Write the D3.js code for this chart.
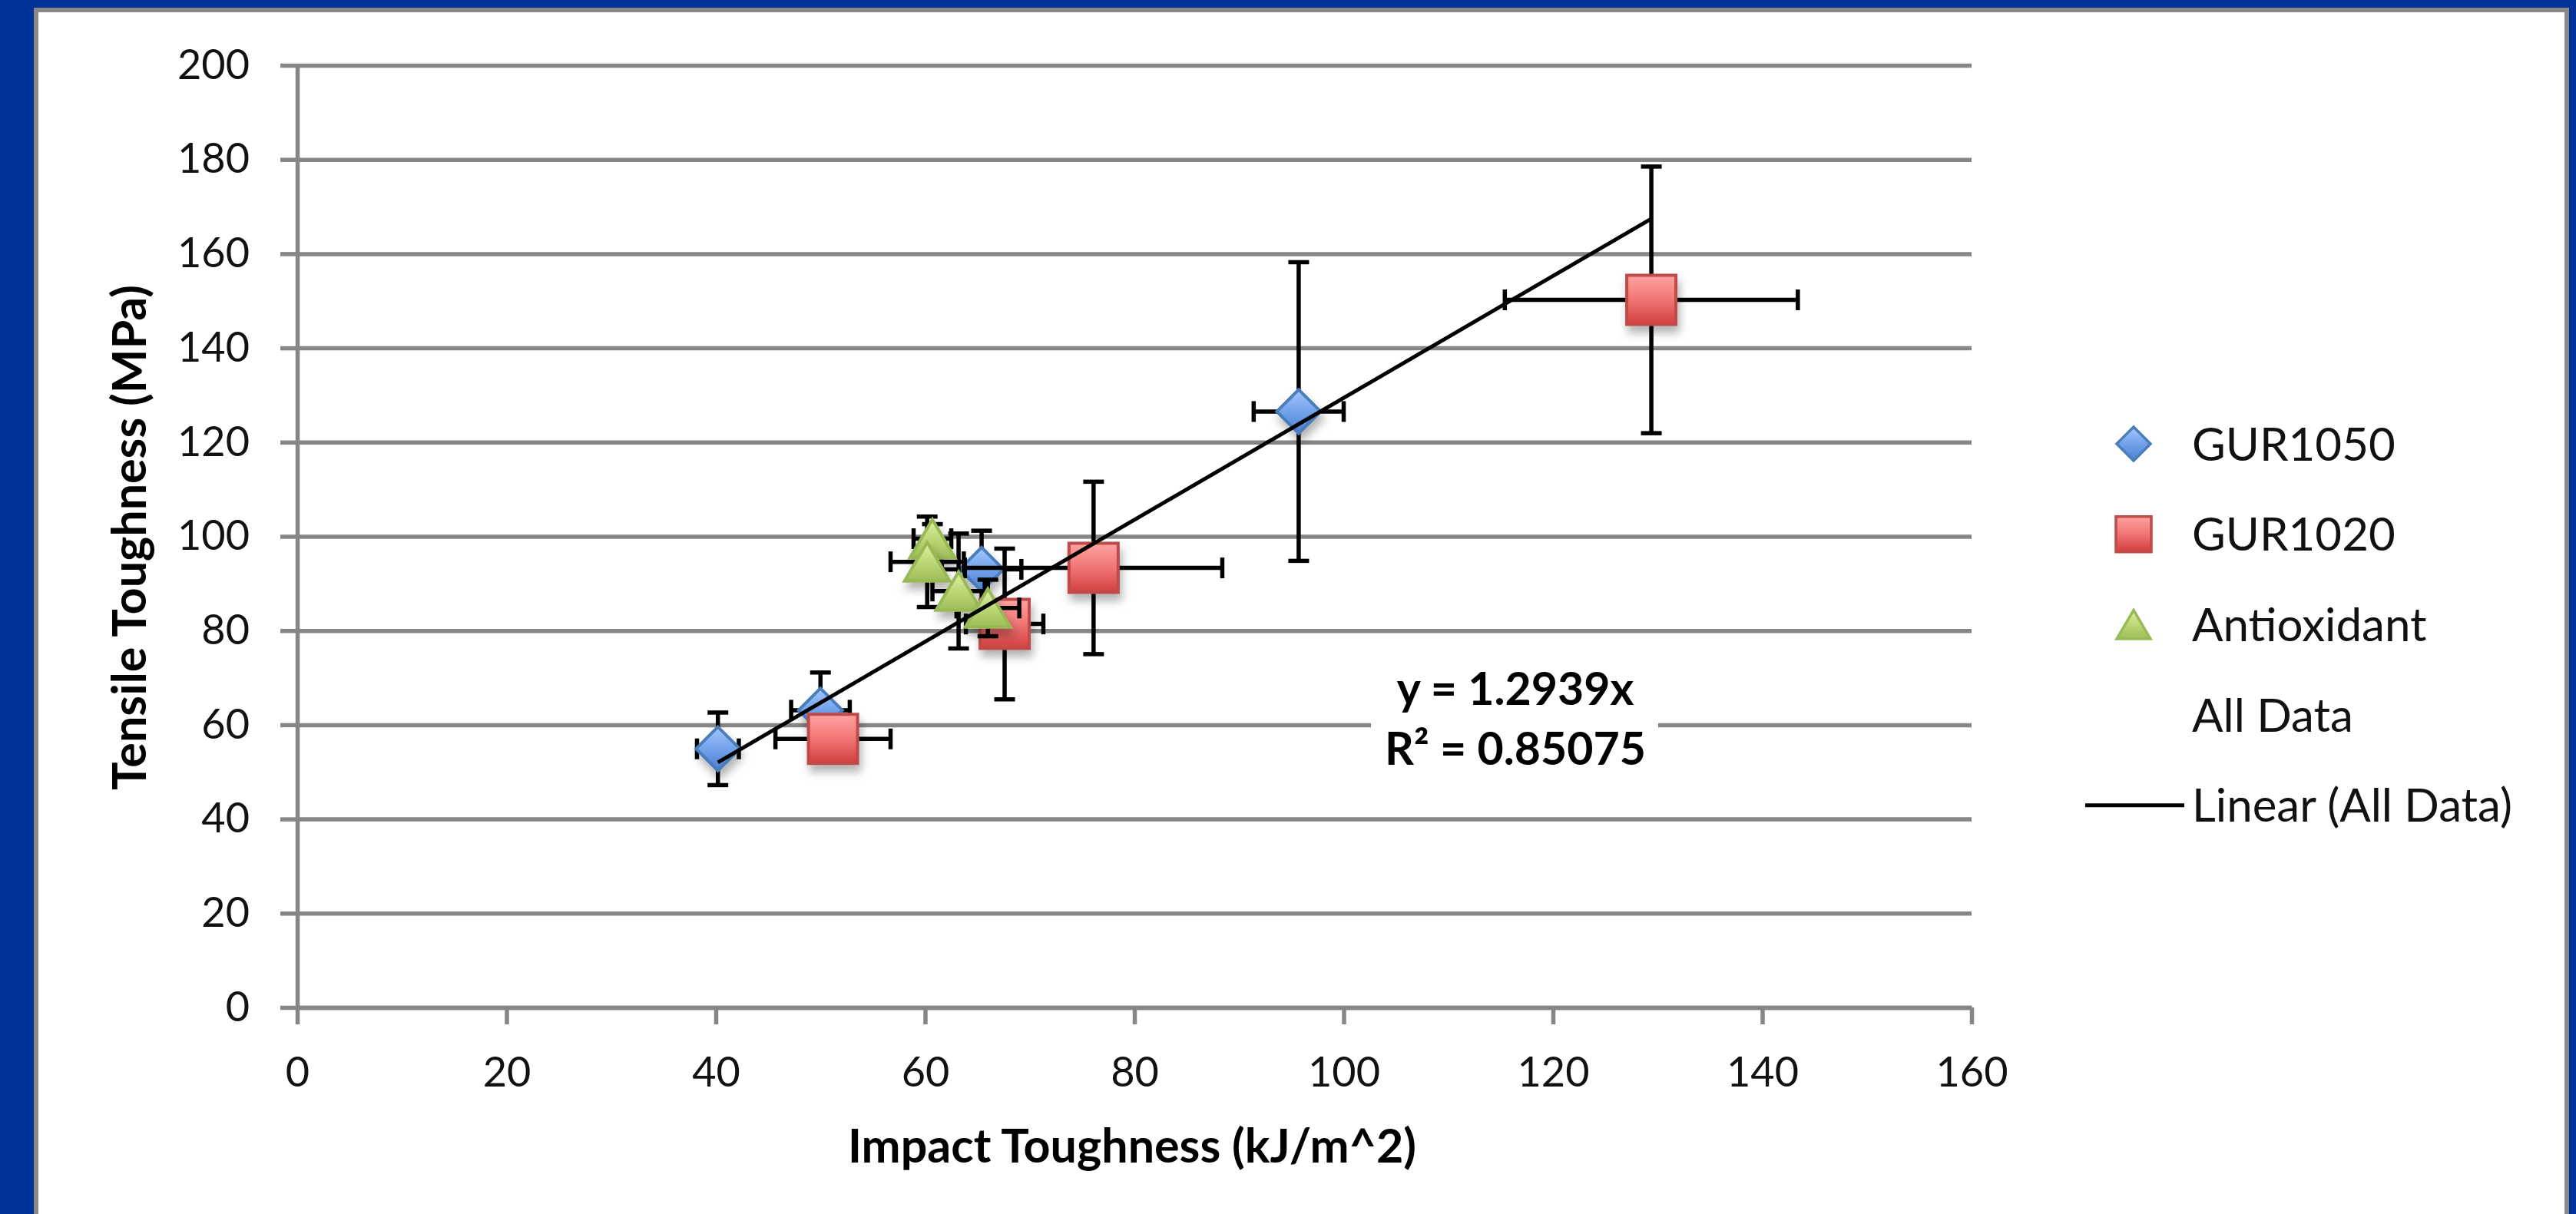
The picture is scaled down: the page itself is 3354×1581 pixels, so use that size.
<!DOCTYPE html>
<html>
<head>
<meta charset="utf-8">
<script src="https://cdn.jsdelivr.net/npm/d3@7"></script>
<style>
  body { margin: 0; background: #003399; }
  svg { display: block; }
</style>
</head>
<body>
<div id="chart"></div>
<script>
// ---------------- data -------------------------------------------------------
const xTicks = [0, 20, 40, 60, 80, 100, 120, 140, 160];
const yTicks = [0, 20, 40, 60, 80, 100, 120, 140, 160, 180, 200];

const gur1050X    = [40.2, 50.0, 65.4, 95.7];
const gur1050Y    = [54.9, 63.1, 93.0, 126.5];
const gur1050XErr = [2.0, 2.8, 3.8, 4.3];
const gur1050YErr = [7.7, 8.0, 8.2, 31.7];

const gur1020X    = [51.2, 67.6, 76.1, 129.4];
const gur1020Y    = [57.0, 81.4, 93.3, 150.2];
const gur1020XErr = [5.5, 3.7, 12.3, 14.0];
const gur1020YErr = [3.0, 16.0, 18.3, 28.3];

const antioxX    = [60.7, 60.2, 63.2, 66.0];
const antioxY    = [99.5, 94.6, 88.4, 84.8];
const antioxXErr = [1.8, 3.5, 2.5, 3.0];
const antioxYErr = [3.1, 9.6, 12.2, 6.0];

const legendLabels = ['GUR1050', 'GUR1020', 'Antioxidant', 'All Data', 'Linear (All Data)'];
const trendSlope = 1.2939;
const trendText = ['y = 1.2939x', 'R² = 0.85075'];

// ---------------- layout -----------------------------------------------------
const totalWidth = 3354, totalHeight = 1581;
const plot = { left: 387, right: 2567, top: 85, bottom: 1312 };
const gridColor = '#868686';
const font = 'Lato, "Open Sans", sans-serif';

const svg = d3.select('#chart').append('svg')
  .attr('width', totalWidth)
  .attr('height', totalHeight);

const defs = svg.append('defs');
function gradient(id, top, mid, bottom){
  const g = defs.append('linearGradient').attr('id', id)
    .attr('x1', 0).attr('y1', 0).attr('x2', 0).attr('y2', 1);
  g.append('stop').attr('offset', '0%').attr('stop-color', top);
  g.append('stop').attr('offset', '50%').attr('stop-color', mid);
  g.append('stop').attr('offset', '100%').attr('stop-color', bottom);
}
gradient('gBlue', '#a3c6ff', '#73a2ea', '#4a7fd2');
gradient('gRed', '#ffa3a2', '#f07574', '#d23f3e');
gradient('gGreen', '#dcf2a2', '#bcd978', '#9dbd58');

defs.append('filter').attr('id', 'shadow')
  .attr('x', '-50%').attr('y', '-50%').attr('width', '200%').attr('height', '200%')
  .append('feDropShadow')
    .attr('dx', 3).attr('dy', 9).attr('stdDeviation', 6)
    .attr('flood-color', '#000').attr('flood-opacity', 0.3);

// background + chart frame
svg.append('rect').attr('width', totalWidth).attr('height', totalHeight).attr('fill', '#003399');
svg.append('rect')
  .attr('x', 47).attr('y', 13)
  .attr('width', 3295).attr('height', 1700)
  .attr('fill', '#ffffff')
  .attr('stroke', '#898989')
  .attr('stroke-width', 6);

// ---------------- scales -----------------------------------------------------
const xScale = d3.scaleLinear().domain([0, 160]).range([plot.left, plot.right]);
const yScale = d3.scaleLinear().domain([0, 200]).range([plot.bottom, plot.top]);

// ---------------- grid + axes ------------------------------------------------
const grid = svg.append('g')
  .attr('transform', 'translate(' + plot.left + ',0)')
  .call(d3.axisLeft(yScale).tickValues(yTicks)
    .tickSize(-(plot.right - plot.left)).tickFormat(''));
grid.select('.domain').remove();
grid.selectAll('line').attr('stroke', gridColor).attr('stroke-width', 5.5);

const yAxisView = svg.append('g')
  .attr('transform', 'translate(' + plot.left + ',0)')
  .call(d3.axisLeft(yScale).tickValues(yTicks).tickSize(22).tickSizeOuter(0).tickPadding(40));
const xAxisView = svg.append('g')
  .attr('transform', 'translate(0,' + plot.bottom + ')')
  .call(d3.axisBottom(xScale).tickValues(xTicks).tickSize(22).tickSizeOuter(0).tickPadding(43));

[yAxisView, xAxisView].forEach(function(a){
  a.select('.domain').attr('stroke', gridColor).attr('stroke-width', 5.5);
  a.selectAll('line').attr('stroke', gridColor).attr('stroke-width', 5.5);
  a.selectAll('text')
    .style('font-family', font)
    .style('font-size', '54px')
    .attr('fill', '#111');
});

// axis titles
svg.append('text')
  .attr('x', 1474).attr('y', 1514)
  .attr('text-anchor', 'middle')
  .style('font-family', font).style('font-size', '61px').style('font-weight', 'bold')
  .text('Impact Toughness (kJ/m^2)');
svg.append('text')
  .attr('transform', 'translate(190,700) rotate(-90)')
  .attr('text-anchor', 'middle')
  .style('font-family', font).style('font-size', '61px').style('font-weight', 'bold')
  .text('Tensile Toughness (MPa)');

// ---------------- marker shapes ----------------------------------------------
// Excel style: bbox-centred shapes, size = bbox width
const diamondType = { draw: function(ctx, s){ const r = s / 2;
  ctx.moveTo(0, -r); ctx.lineTo(r, 0); ctx.lineTo(0, r); ctx.lineTo(-r, 0); ctx.closePath(); } };
const squareType = { draw: function(ctx, s){ const r = s / 2;
  ctx.rect(-r, -r, s, s); } };
const triangleType = { draw: function(ctx, s){ const w = s / 2, h = s * 0.85 / 2;
  ctx.moveTo(0, -h); ctx.lineTo(w, h); ctx.lineTo(-w, h); ctx.closePath(); } };

const series = [
  { name: legendLabels[0], x: gur1050X, y: gur1050Y, xe: gur1050XErr, ye: gur1050YErr,
    type: diamondType, size: 57, legendSize: 44, fill: 'url(#gBlue)', stroke: '#4a7ebb' },
  { name: legendLabels[1], x: gur1020X, y: gur1020Y, xe: gur1020XErr, ye: gur1020YErr,
    type: squareType, size: 64, legendSize: 46, fill: 'url(#gRed)', stroke: '#be4b48' },
  { name: legendLabels[2], x: antioxX, y: antioxY, xe: antioxXErr, ye: antioxYErr,
    type: triangleType, size: 59, legendSize: 44, fill: 'url(#gGreen)', stroke: '#98b954' }
];

// ---------------- series: error bars then markers ----------------------------
const cap = 13.5;
series.forEach(function(s){
  const pts = s.x.map(function(v, i){ return { x: v, y: s.y[i], xe: s.xe[i], ye: s.ye[i] }; });
  const eb = svg.append('g').attr('stroke', '#000').attr('stroke-width', 5.5);
  pts.forEach(function(d){
    const cx = xScale(d.x), cy = yScale(d.y);
    const x0 = xScale(d.x - d.xe), x1 = xScale(d.x + d.xe);
    const y0 = yScale(d.y - d.ye), y1 = yScale(d.y + d.ye);
    eb.append('line').attr('x1', x0).attr('x2', x1).attr('y1', cy).attr('y2', cy);
    eb.append('line').attr('x1', x0).attr('x2', x0).attr('y1', cy - cap).attr('y2', cy + cap);
    eb.append('line').attr('x1', x1).attr('x2', x1).attr('y1', cy - cap).attr('y2', cy + cap);
    eb.append('line').attr('x1', cx).attr('x2', cx).attr('y1', y0).attr('y2', y1);
    eb.append('line').attr('x1', cx - cap).attr('x2', cx + cap).attr('y1', y0).attr('y2', y0);
    eb.append('line').attr('x1', cx - cap).attr('x2', cx + cap).attr('y1', y1).attr('y2', y1);
  });
  svg.append('g').selectAll('path')
    .data(pts)
    .enter()
    .append('path')
      .attr('d', d3.symbol().type(s.type).size(s.size))
      .attr('transform', function(d){ return 'translate(' + xScale(d.x) + ',' + yScale(d.y) + ')'; })
      .attr('fill', s.fill)
      .attr('stroke', s.stroke)
      .attr('stroke-width', 4)
      .attr('filter', 'url(#shadow)');
});

// ---------------- trendline (All Data, zero intercept) -----------------------
const allX = gur1050X.concat(gur1020X, antioxX);
const trendX = [d3.min(allX), d3.max(allX)];
svg.append('path')
  .datum(trendX)
  .attr('d', d3.line().x(function(v){ return xScale(v); }).y(function(v){ return yScale(trendSlope * v); }))
  .attr('stroke', '#000')
  .attr('stroke-width', 5)
  .attr('fill', 'none');

// trendline label
const labelGroup = svg.append('g');
labelGroup.append('rect')
  .attr('x', 1785).attr('y', 858).attr('width', 374).attr('height', 154)
  .attr('fill', '#fff');
labelGroup.selectAll('text')
  .data(trendText)
  .enter()
  .append('text')
    .attr('x', 1973)
    .attr('y', function(d, i){ return 918 + i * 78; })
    .attr('text-anchor', 'middle')
    .style('font-family', font).style('font-size', '59px').style('font-weight', 'bold')
    .text(function(d){ return d; });

// ---------------- legend -----------------------------------------------------
const legendX = 2778, legendY0 = 578, legendStep = 117.7;
const legend = svg.append('g');
legendLabels.forEach(function(label, i){
  const ly = legendY0 + i * legendStep;
  if (i < series.length){
    legend.append('path')
      .attr('d', d3.symbol().type(series[i].type).size(series[i].legendSize))
      .attr('transform', 'translate(' + legendX + ',' + ly + ')')
      .attr('fill', series[i].fill)
      .attr('stroke', series[i].stroke)
      .attr('stroke-width', 3.5);
  }
  if (label.indexOf('Linear') === 0){
    legend.append('line')
      .attr('x1', 2715).attr('x2', 2844).attr('y1', ly).attr('y2', ly)
      .attr('stroke', '#000').attr('stroke-width', 5);
  }
  legend.append('text')
    .attr('x', 2854).attr('y', ly).attr('dy', '0.36em')
    .style('font-family', font).style('font-size', '60px')
    .attr('fill', '#111')
    .text(label);
});
</script>
</body>
</html>
